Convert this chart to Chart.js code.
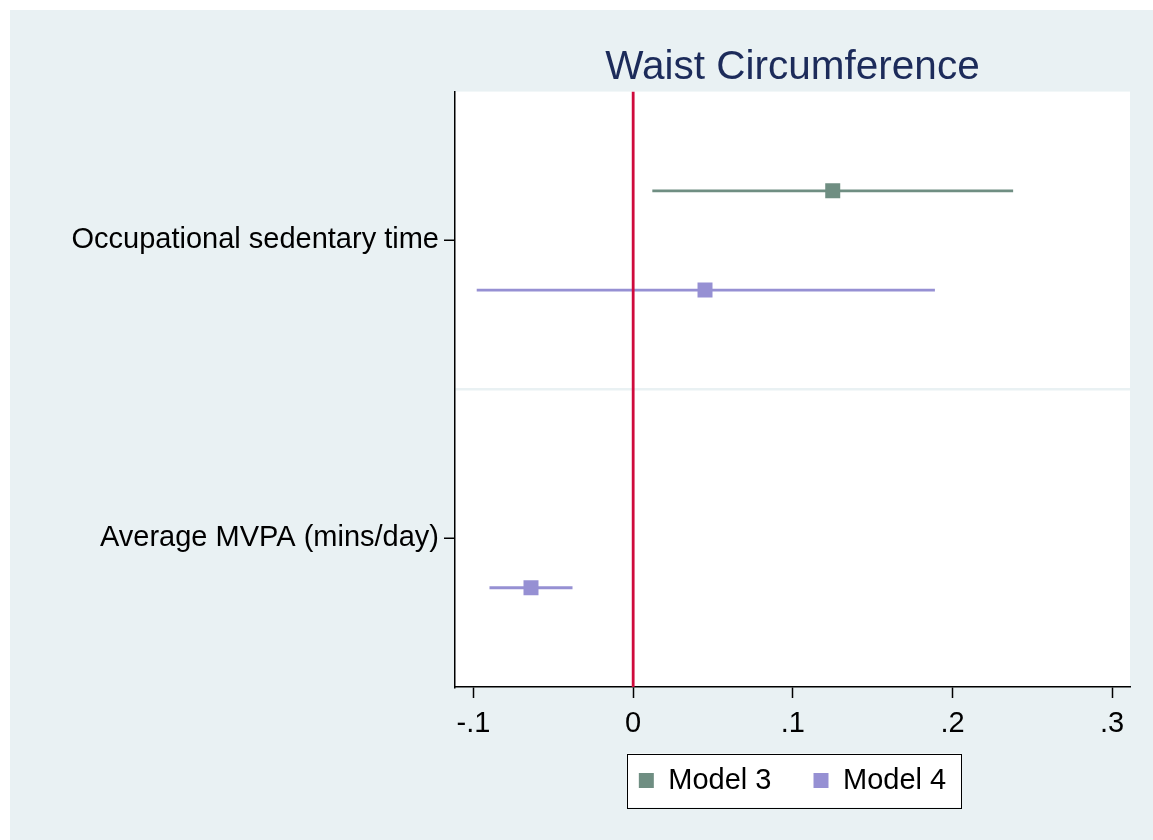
<!DOCTYPE html>
<html>
<head>
<meta charset="utf-8">
<title>Waist Circumference</title>
<script src="https://cdn.jsdelivr.net/npm/chart.js@4/dist/chart.umd.min.js"></script>
<style>
  html, body { margin: 0; padding: 0; background: #fff; }
  canvas { display: block; }
</style>
</head>
<body>
<canvas id="forestChart" width="1153" height="840"></canvas>
<script>
// exposures on the y axis, top to bottom
const categories = ['Occupational sedentary time', 'Average MVPA (mins/day)'];

// Model 3 estimates and 95% CI (no estimate for MVPA)
const model3Est = [0.125, null];
const model3Lo = [0.012, null];
const model3Hi = [0.238, null];

// Model 4 estimates and 95% CI
const model4Est = [0.045, -0.064];
const model4Lo = [-0.098, -0.090];
const model4Hi = [0.189, -0.038];

const xTicks = [-0.1, 0, 0.1, 0.2, 0.3];

const FONT = '"Liberation Sans", Arial, Helvetica, sans-serif';
const GREEN = '#6f8e82';
const PURPLE = '#9690d3';
const PANEL = '#e9f1f3';

// each exposure takes 3 units: model 3 row, model 4 row, spacer
const rowCenter = i => 1.5 + 3 * i;
const yMax = categories.length * 3;

const models = [
  { label: 'Model 3', est: model3Est, lo: model3Lo, hi: model3Hi, color: GREEN, offset: -0.5 },
  { label: 'Model 4', est: model4Est, lo: model4Lo, hi: model4Hi, color: PURPLE, offset: 0.5 }
];

const datasets = [];

// confidence interval segments
models.forEach(m => {
  categories.forEach((c, i) => {
    if (m.est[i] === null) return;
    const y = rowCenter(i) + m.offset;
    datasets.push({
      data: [{ x: m.lo[i], y: y }, { x: m.hi[i], y: y }],
      showLine: true,
      borderColor: m.color,
      borderWidth: 2.8,
      pointRadius: 0,
      order: 3
    });
  });
});

// reference line at zero
datasets.push({
  data: [{ x: 0, y: 0 }, { x: 0, y: yMax }],
  showLine: true,
  borderColor: '#cf0a3c',
  borderWidth: 2.8,
  pointRadius: 0,
  order: 2
});

// point estimates
models.forEach(m => {
  const pts = [];
  categories.forEach((c, i) => {
    if (m.est[i] !== null) pts.push({ x: m.est[i], y: rowCenter(i) + m.offset });
  });
  datasets.push({
    label: m.label,
    inLegend: true,
    data: pts,
    pointStyle: 'rect',
    pointRadius: 10.6,
    pointHoverRadius: 10.6,
    backgroundColor: m.color,
    borderColor: m.color,
    borderWidth: 0,
    order: 1
  });
});

const fmtX = v => {
  if (Math.abs(v) < 1e-9) return '0';
  return v.toFixed(1).replace('0.', '.');
};

// grey page, white plot region and a framed legend
const backdrop = {
  id: 'backdrop',
  afterLayout(chart) {
    // pull the legend up under the tick labels
    chart.legend.top -= 18;
    chart.legend.bottom -= 18;
  },
  beforeDraw(chart) {
    const ctx = chart.ctx;
    const a = chart.chartArea;
    ctx.save();
    ctx.fillStyle = '#fff';
    ctx.fillRect(0, 0, chart.width, chart.height);
    ctx.fillStyle = PANEL;
    ctx.fillRect(10, 10, chart.width - 10, chart.height - 10);
    ctx.fillStyle = '#fff';
    ctx.fillRect(a.left, a.top, a.right - a.left, a.bottom - a.top);

    const boxes = chart.legend.legendHitBoxes;
    if (boxes && boxes.length) {
      const x0 = Math.min(...boxes.map(b => b.left)) - 12;
      const x1 = Math.max(...boxes.map(b => b.left + b.width)) + 15;
      const yc = boxes[0].top + boxes[0].height / 2;
      ctx.fillStyle = '#fff';
      ctx.fillRect(x0, yc - 27, x1 - x0, 54);
      ctx.strokeStyle = '#000';
      ctx.lineWidth = 1;
      ctx.strokeRect(Math.round(x0) + 0.5, Math.round(yc - 27) + 0.5, Math.round(x1 - x0), 54);
    }
    ctx.restore();
  }
};

new Chart(document.getElementById('forestChart'), {
  type: 'scatter',
  data: { datasets: datasets },
  plugins: [backdrop],
  options: {
    responsive: false,
    animation: false,
    layout: { padding: { left: 10, right: 23, top: 10, bottom: 17 } },
    plugins: {
      tooltip: { enabled: false },
      title: {
        display: true,
        text: 'Waist Circumference',
        fullSize: false,
        color: '#1c2b5a',
        font: { family: FONT, size: 40.5, weight: 'normal', lineHeight: 1.15 },
        padding: { top: 35, bottom: 0 }
      },
      legend: {
        position: 'bottom',
        fullSize: false,
        labels: {
          filter: (item, data) => !!data.datasets[item.datasetIndex].inLegend,
          usePointStyle: true,
          pointStyle: 'rect',
          boxWidth: 15,
          boxHeight: 15,
          padding: 42,
          color: '#000',
          font: { family: FONT, size: 29 }
        }
      }
    },
    scales: {
      x: {
        type: 'linear',
        min: -0.1116,
        max: 0.3112,
        afterBuildTicks: axis => { axis.ticks = xTicks.map(v => ({ value: v })); },
        afterFit: axis => { axis.height = 55; },
        border: { display: true, color: '#000', width: 1.5 },
        grid: {
          drawOnChartArea: false,
          tickLength: 11,
          tickColor: '#000',
          tickWidth: 1.5
        },
        ticks: {
          padding: 9,
          color: '#000',
          maxRotation: 0,
          font: { family: FONT, size: 29 },
          callback: v => fmtX(v)
        }
      },
      y: {
        type: 'linear',
        reverse: true,
        min: 0,
        max: yMax,
        afterBuildTicks: axis => {
          axis.ticks = [{ value: 1.5 }, { value: 3 }, { value: 4.5 }];
        },
        afterFit: axis => { axis.width = 445; },
        border: { display: true, color: '#000', width: 1.5 },
        grid: {
          drawOnChartArea: true,
          color: ctx => (ctx.tick && ctx.tick.value === 3 ? PANEL : 'rgba(0,0,0,0)'),
          lineWidth: 2.5,
          tickLength: 11,
          tickColor: ctx => (ctx.tick && ctx.tick.value === 3 ? 'rgba(0,0,0,0)' : '#000'),
          tickWidth: 1.5
        },
        ticks: {
          padding: 5,
          color: '#000',
          font: { family: FONT, size: 29 },
          callback: v => {
            const i = categories.findIndex((c, k) => Math.abs(rowCenter(k) - v) < 1e-6);
            return i >= 0 ? categories[i] : '';
          }
        }
      }
    }
  }
});
</script>
</body>
</html>
